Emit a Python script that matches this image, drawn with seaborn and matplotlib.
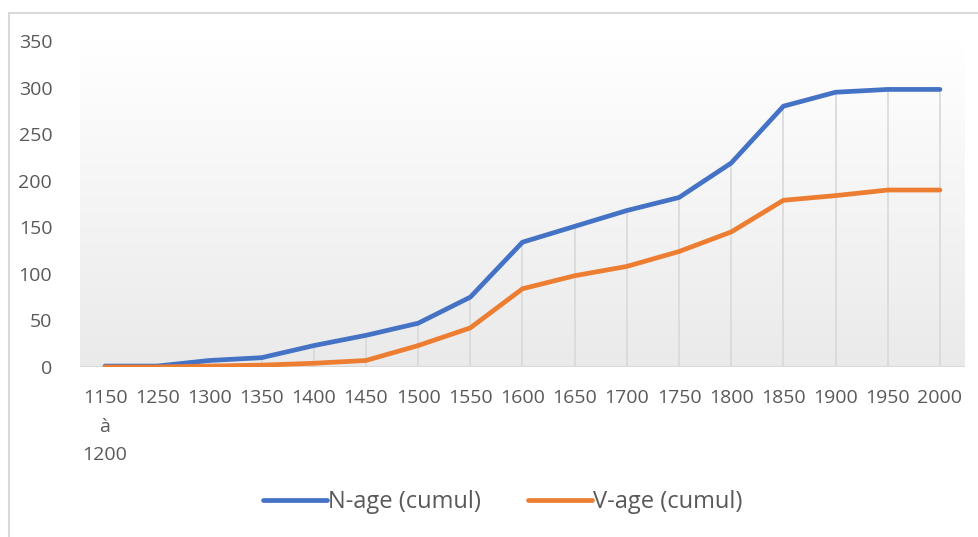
import numpy as np
import pandas as pd
import matplotlib
matplotlib.use('Agg')
import matplotlib.pyplot as plt
import seaborn as sns
from matplotlib.patches import Rectangle
from matplotlib.colors import LinearSegmentedColormap

# Données
periodes = ['1150\nà\n1200', '1250', '1300', '1350', '1400', '1450', '1500', '1550',
            '1600', '1650', '1700', '1750', '1800', '1850', '1900', '1950', '2000']
n_age = [1, 1, 7, 10, 23, 34, 47, 75, 134, 151, 168, 182, 219, 280, 295, 298, 298]
v_age = [0, 0, 1, 2, 4, 7, 23, 42, 84, 98, 108, 124, 145, 179, 184, 190, 190]
series = ['N-age (cumul)', 'V-age (cumul)']
couleurs = ['#4472C4', '#ED7D31']

n_cat = len(periodes)
df = pd.DataFrame({
    'pos': list(range(n_cat)) * 2,
    'valeur': n_age + v_age,
    'serie': [series[0]] * n_cat + [series[1]] * n_cat,
})

sns.set_style('white')
plt.rcParams['font.family'] = ['Open Sans', 'DejaVu Sans']
gris_texte = '#595959'

fig = plt.figure(figsize=(9.79, 5.37), dpi=100)
ax = fig.add_axes([80 / 979, 1 - 367 / 537, 885 / 979, 326 / 537])

# fond dégradé du cadre
grad = np.linspace(0, 1, 256).reshape(-1, 1)
ax.imshow(grad, extent=[0, 1, 0, 1], transform=ax.transAxes, aspect='auto',
          cmap=LinearSegmentedColormap.from_list('g', ['#eaeaea', '#ffffff']),
          origin='lower', zorder=0)

# lignes de projection
hauts = np.maximum(n_age, v_age)
ax.vlines(range(n_cat), 0, hauts, color='#d9d9d9', lw=1.2, zorder=1)
ax.axhline(0, color='#d9d9d9', lw=1.5, zorder=1)

sns.lineplot(data=df, x='pos', y='valeur', hue='serie', palette=couleurs,
             linewidth=3.4, ax=ax, zorder=3, legend=True)

ax.set_xlim(-0.48, n_cat - 1 + 0.48)
ax.set_ylim(0, 350)
ax.set_yticks(range(0, 351, 50))
ax.set_xticks(range(n_cat))
ax.set_xticklabels(periodes, linespacing=1.75, va='top')
ax.tick_params(axis='both', length=0, labelsize=14, labelcolor=gris_texte)
ax.tick_params(axis='y', pad=20)
ax.tick_params(axis='x', pad=16)
ax.set_xlabel('')
ax.set_ylabel('')
for s in ax.spines.values():
    s.set_visible(False)

handles, labels = ax.get_legend_handles_labels()
for h in handles:
    h.set_linewidth(3.4)
leg = fig.legend(handles, labels, loc='center', bbox_to_anchor=(503 / 979, 1 - 502 / 537),
                 ncol=2, frameon=False, fontsize=17, handlelength=2.7, columnspacing=2.0,
                 handletextpad=0.05)
for t in leg.get_texts():
    t.set_color(gris_texte)
ax.get_legend().remove()

# cadre extérieur
fig.patches.append(Rectangle((9 / 979, -0.01), 1.0, 1 - 13 / 537 + 0.01,
                             transform=fig.transFigure, fill=False,
                             edgecolor='#d9d9d9', lw=1.5))

fig.savefig('out.png', dpi=100)
